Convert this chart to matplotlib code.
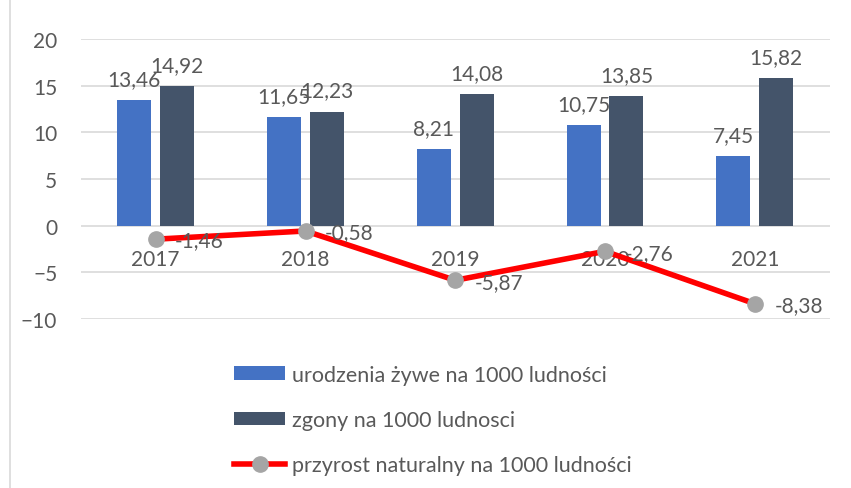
import numpy as np
import matplotlib.pyplot as plt
from matplotlib.lines import Line2D

plt.rcParams['font.family'] = ['Lato', 'DejaVu Sans']

# Dane
lata = ["2017", "2018", "2019", "2020", "2021"]
urodzenia = [13.46, 11.65, 8.21, 10.75, 7.45]
zgony = [14.92, 12.23, 14.08, 13.85, 15.82]
przyrost = [-1.46, -0.58, -5.87, -2.76, -8.38]

kolor_tekstu = "#595959"
fs = 15

fig = plt.figure(figsize=(8.51, 4.89), dpi=100)
ax = fig.add_axes([0.095, 0.346, 0.88, 0.572])

x = np.arange(len(lata))
w = 0.227
off = 0.143

b1 = ax.bar(x - off, urodzenia, w, color="#4472C4", zorder=2,
            label="urodzenia żywe na 1000 ludności")
b2 = ax.bar(x + off, zgony, w, color="#44546A", zorder=2,
            label="zgony na 1000 ludnosci")
ln, = ax.plot(x, przyrost, color="#FF0000", lw=4, marker="o", ms=11,
              mfc="#A5A5A5", mec="#A5A5A5", zorder=4,
              label="przyrost naturalny na 1000 ludności")

fmt = lambda v: f"{v:.2f}".replace(".", ",")
for xi, v in zip(x - off, urodzenia):
    ax.annotate(fmt(v), (xi, v), xytext=(0, 8), textcoords="offset points",
                ha="center", va="bottom", fontsize=fs, color=kolor_tekstu, zorder=5)
for xi, v in zip(x + off, zgony):
    ax.annotate(fmt(v), (xi, v), xytext=(0, 8), textcoords="offset points",
                ha="center", va="bottom", fontsize=fs, color=kolor_tekstu, zorder=5)
for xi, v in zip(x, przyrost):
    ax.annotate(fmt(v), (xi, v), xytext=(14, -1), textcoords="offset points",
                ha="left", va="center", fontsize=fs, color=kolor_tekstu, zorder=5)

ax.set_xlim(-0.5, len(lata) - 0.5)
ax.set_ylim(-10, 20)
ax.set_yticks(np.arange(-10, 21, 5))
ax.yaxis.grid(True, color="#D9D9D9", lw=1.2, zorder=0)
ax.set_axisbelow(True)
for s in ["top", "right", "left"]:
    ax.spines[s].set_visible(False)
ax.spines["bottom"].set_position(("data", 0))
ax.spines["bottom"].set_visible(False)
ax.set_xticks(x)
ax.set_xticklabels(lata)
ax.tick_params(axis="x", length=0, pad=17, labelsize=fs, labelcolor=kolor_tekstu)
ax.tick_params(axis="y", length=0, pad=17, labelsize=fs, labelcolor=kolor_tekstu)

fig.legend(handles=[b1, b2, ln], loc="upper left", bbox_to_anchor=(0.262, 0.274),
           frameon=False, fontsize=15.5, labelcolor=kolor_tekstu,
           handlelength=2.4, handleheight=0.6, handletextpad=0.3,
           labelspacing=1.17, borderpad=0)

fig.add_artist(Line2D([10 / 851, 10 / 851], [0, 1], color="#D9D9D9", lw=1.2))

fig.savefig("out.png", dpi=100)
